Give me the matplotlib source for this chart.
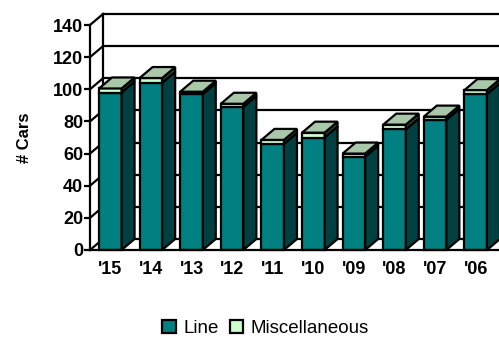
import matplotlib
matplotlib.use("Agg")
import matplotlib.pyplot as plt
from matplotlib.patches import Polygon, Patch
from matplotlib.lines import Line2D

plt.rcParams['font.family'] = ['Liberation Sans', 'DejaVu Sans']

# Data
years = ["'15", "'14", "'13", "'12", "'11", "'10", "'09", "'08", "'07", "'06"]
line_cars = [98, 104, 97, 89, 66, 70, 58, 75, 81, 97]
misc_cars = [2.5, 3, 1.5, 2, 2.5, 3, 2, 3, 2, 2.5]
y_ticks = [0, 20, 40, 60, 80, 100, 120, 140]

# Colours
TEAL, TEAL_SIDE = '#008080', '#004040'
MISC, MISC_SIDE, MISC_TOP = '#CCFFCC', '#2F452F', '#A9C7A9'
EDGE = 'black'
LW = 1.6

W, H, DPI = 4.99, 3.39, 100
fig = plt.figure(figsize=(W, H), dpi=DPI)
fig.patch.set_facecolor('white')

# front plane of the 3-D box, in figure pixels
left_px, right_px, base_px, top_px = 90, 496, 250, 25
ax = fig.add_axes([left_px / 499, (339 - base_px) / 339,
                   (right_px - left_px) / 499, (base_px - top_px) / 339])
n = len(years)
ax.set_xlim(-0.5, n - 0.5)
ax.set_ylim(0, 140)
ax.set_facecolor('none')

# depth of the box (pixels) converted into data units
DEPTH_X_PX, DEPTH_Y_PX = 13, 11
ux = DEPTH_X_PX / ((right_px - left_px) / n)
uy = DEPTH_Y_PX / ((base_px - top_px) / 140)
x0, x1 = -0.5, n - 0.5

# back wall gridlines and left wall
for v in y_ticks:
    ax.add_line(Line2D([x0 + ux, x1 + ux + 1], [v + uy, v + uy], color=EDGE,
                       lw=LW, clip_on=False, zorder=1))
    ax.add_line(Line2D([x0, x0 + ux], [v, v + uy], color=EDGE, lw=LW,
                       clip_on=False, zorder=1))
ax.add_line(Line2D([x0 + ux, x0 + ux], [uy, 140 + uy], color=EDGE, lw=LW,
                   clip_on=False, zorder=1))

# bars drawn as front / side / top faces
bw = 0.555
for i, (ln, ms) in enumerate(zip(line_cars, misc_cars)):
    xl, xr = i - bw / 2, i + bw / 2
    segs = [(0, ln, TEAL, TEAL_SIDE), (ln, ln + ms, MISC, MISC_SIDE)]
    for b, t, fc, sc in segs:
        ax.add_patch(Polygon([(xl, b), (xr, b), (xr, t), (xl, t)], closed=True,
                             facecolor=fc, edgecolor=EDGE, lw=LW,
                             joinstyle='miter', clip_on=False, zorder=3))
        ax.add_patch(Polygon([(xr, b), (xr + ux, b + uy), (xr + ux, t + uy),
                              (xr, t)], closed=True, facecolor=sc,
                             edgecolor=EDGE, lw=LW, joinstyle='miter',
                             clip_on=False, zorder=3))
    T = ln + ms
    ax.add_patch(Polygon([(xl, T), (xl + ux, T + uy), (xr + ux, T + uy),
                          (xr, T)], closed=True, facecolor=MISC_TOP,
                         edgecolor=EDGE, lw=LW, joinstyle='miter',
                         clip_on=False, zorder=3))

# axes styling
for s in ('top', 'right'):
    ax.spines[s].set_visible(False)
for s in ('left', 'bottom'):
    ax.spines[s].set_linewidth(LW)
    ax.spines[s].set_zorder(4)
ax.spines['bottom'].set_bounds(x0, x1 + 1)
ax.set_yticks(y_ticks)
ax.set_yticklabels([str(v) for v in y_ticks], fontsize=13, fontweight='bold')
ax.set_xticks(range(n))
ax.set_xticklabels(years, fontsize=13, fontweight='bold')
ax.tick_params(axis='y', length=4, width=LW, pad=1)
ax.tick_params(axis='x', length=0, pad=8)
ax.set_ylabel('# Cars', fontsize=12, fontweight='bold', labelpad=15)

handles = [Patch(facecolor=TEAL, edgecolor=EDGE, lw=LW, label='Line'),
           Patch(facecolor=MISC, edgecolor=EDGE, lw=LW, label='Miscellaneous')]
fig.legend(handles=handles, loc='center', bbox_to_anchor=(0.532, 0.03),
           ncol=2, frameon=False, fontsize=13.5, handlelength=0.7,
           handleheight=0.7, handletextpad=0.4, columnspacing=0.6)

fig.savefig('out.png', dpi=DPI, facecolor='white')
